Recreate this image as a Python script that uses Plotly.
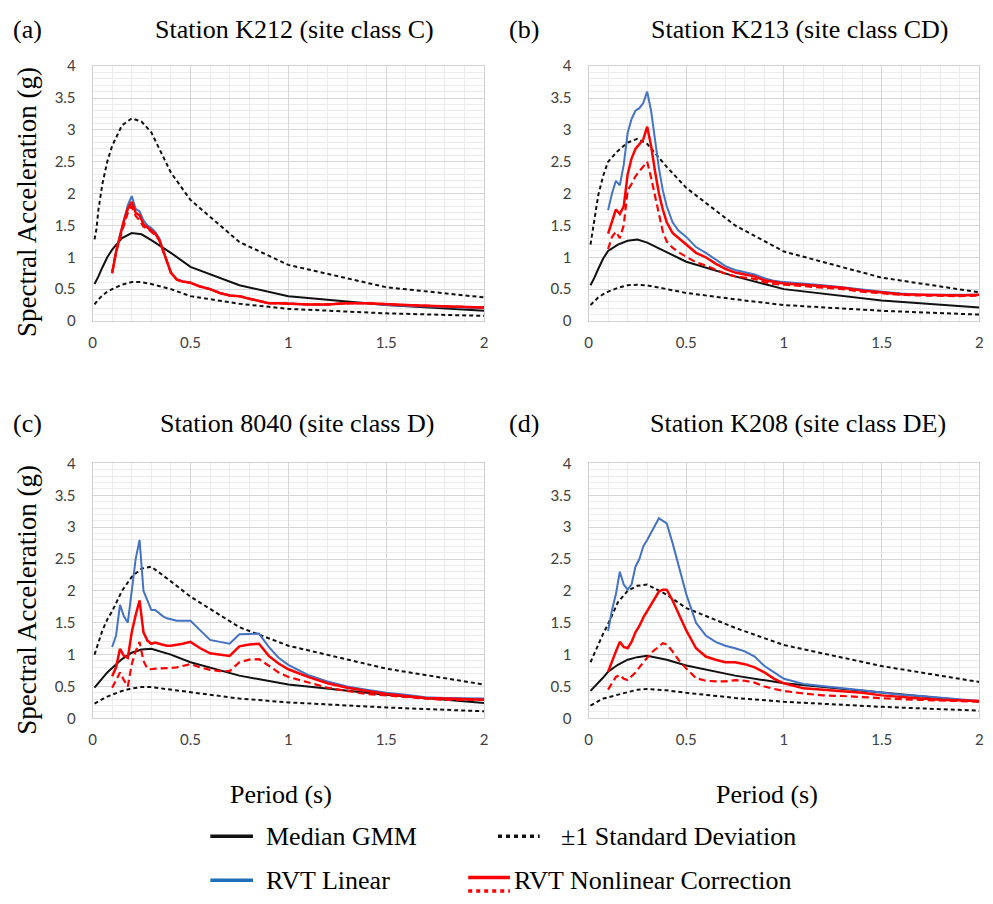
import plotly.graph_objects as go

# ---------------- data ----------------
# GMM periods (s)
gmm_T = [0.01, 0.02, 0.03, 0.05, 0.075, 0.1, 0.15, 0.2, 0.25, 0.3, 0.4, 0.5, 0.75, 1.0, 1.5, 2.0]
# RVT periods (s)
rvt_T = [0.10, 0.12, 0.14, 0.16, 0.18, 0.20, 0.22, 0.24, 0.26, 0.28, 0.30, 0.32, 0.34, 0.36, 0.38,
         0.40, 0.43, 0.46, 0.50, 0.55, 0.60, 0.65, 0.70, 0.75, 0.80, 0.85, 0.90, 0.95, 1.00,
         1.10, 1.20, 1.30, 1.40, 1.50, 1.60, 1.70, 1.80, 1.90, 2.00]

# Station K212 (site class C)
k212_median = [0.58, 0.63, 0.7, 0.84, 1.0, 1.12, 1.3, 1.38, 1.36, 1.27, 1.07, 0.85, 0.56, 0.39, 0.25, 0.16]
k212_upper = [1.28, 1.45, 1.75, 2.15, 2.5, 2.75, 3.07, 3.18, 3.13, 2.96, 2.33, 1.9, 1.24, 0.88, 0.53, 0.37]
k212_lower = [0.26, 0.3, 0.34, 0.4, 0.46, 0.5, 0.57, 0.61, 0.61, 0.58, 0.5, 0.39, 0.27, 0.19, 0.12, 0.08]
k212_linear = [0.75, 1.1, 1.35, 1.6, 1.82, 1.96, 1.76, 1.72, 1.58, 1.5, 1.46, 1.4, 1.3, 1.12, 0.93,
               0.76, 0.65, 0.62, 0.6, 0.54, 0.5, 0.44, 0.4, 0.39, 0.35, 0.32, 0.28, 0.28, 0.27,
               0.26, 0.26, 0.28, 0.28, 0.25, 0.24, 0.23, 0.22, 0.21, 0.2]
k212_nl_a = [0.75, 1.08, 1.33, 1.57, 1.76, 1.87, 1.7, 1.66, 1.52, 1.47, 1.42, 1.37, 1.28, 1.1, 0.92,
             0.76, 0.65, 0.62, 0.6, 0.54, 0.5, 0.44, 0.4, 0.39, 0.35, 0.32, 0.28, 0.28, 0.27,
             0.26, 0.26, 0.28, 0.28, 0.26, 0.25, 0.24, 0.23, 0.22, 0.21]
k212_nl_b = [0.77, 1.08, 1.3, 1.52, 1.7, 1.8, 1.65, 1.58, 1.48, 1.45, 1.4, 1.35, 1.27, 1.1, 0.92,
             0.76, 0.65, 0.62, 0.6, 0.54, 0.5, 0.44, 0.4, 0.39, 0.35, 0.32, 0.28, 0.28, 0.27,
             0.26, 0.26, 0.28, 0.28, 0.26, 0.25, 0.24, 0.23, 0.22, 0.21]

# Station K213 (site class CD)
k213_median = [0.56, 0.61, 0.68, 0.82, 0.98, 1.1, 1.2, 1.26, 1.28, 1.23, 1.08, 0.93, 0.7, 0.5, 0.32, 0.21]
k213_upper = [1.2, 1.4, 1.62, 1.98, 2.28, 2.5, 2.67, 2.8, 2.86, 2.78, 2.42, 2.09, 1.5, 1.09, 0.68, 0.45]
k213_lower = [0.25, 0.28, 0.31, 0.37, 0.42, 0.46, 0.52, 0.56, 0.57, 0.56, 0.5, 0.44, 0.34, 0.25, 0.16, 0.1]
k213_linear = [1.74, 2.0, 2.2, 2.13, 2.45, 2.95, 3.17, 3.3, 3.34, 3.42, 3.6, 3.3, 2.85, 2.4, 2.05,
               1.8, 1.55, 1.42, 1.32, 1.16, 1.07, 0.96, 0.86, 0.8, 0.77, 0.73, 0.67, 0.63, 0.61,
               0.59, 0.56, 0.53, 0.49, 0.46, 0.43, 0.41, 0.41, 0.41, 0.41]
k213_nl_a = [1.37, 1.55, 1.75, 1.68, 1.8, 2.3, 2.55, 2.7, 2.78, 2.85, 3.05, 2.75, 2.35, 2.0, 1.75,
             1.55, 1.38, 1.3, 1.2, 1.07, 1.0, 0.9, 0.82, 0.76, 0.73, 0.7, 0.64, 0.61, 0.59,
             0.57, 0.55, 0.52, 0.48, 0.45, 0.42, 0.41, 0.4, 0.4, 0.41]
k213_nl_b = [1.13, 1.32, 1.4, 1.3, 1.5, 2.05, 2.15, 2.27, 2.35, 2.42, 2.5, 2.25, 1.95, 1.65, 1.4,
             1.25, 1.15, 1.08, 1.01, 0.92, 0.87, 0.8, 0.74, 0.7, 0.68, 0.66, 0.61, 0.58, 0.57,
             0.55, 0.53, 0.5, 0.46, 0.43, 0.41, 0.4, 0.39, 0.39, 0.4]

# Station 8040 (site class D)
s8040_median = [0.48, 0.52, 0.56, 0.63, 0.72, 0.79, 0.93, 1.03, 1.08, 1.09, 1.0, 0.88, 0.67, 0.53, 0.37, 0.24]
s8040_upper = [1.0, 1.1, 1.2, 1.38, 1.55, 1.68, 2.0, 2.22, 2.35, 2.38, 2.15, 1.91, 1.43, 1.14, 0.78, 0.53]
s8040_lower = [0.23, 0.25, 0.27, 0.3, 0.34, 0.37, 0.43, 0.47, 0.49, 0.49, 0.45, 0.41, 0.31, 0.25, 0.17, 0.11]
s8040_linear = [1.12, 1.3, 1.78, 1.6, 1.5, 2.05, 2.5, 2.8, 2.0, 1.85, 1.7, 1.7, 1.65, 1.6, 1.57,
                1.55, 1.53, 1.53, 1.53, 1.38, 1.23, 1.2, 1.17, 1.32, 1.33, 1.33, 1.12, 0.95, 0.84,
                0.68, 0.58, 0.5, 0.45, 0.4, 0.37, 0.33, 0.32, 0.31, 0.31]
s8040_nl_a = [0.66, 0.8, 1.09, 0.98, 0.95, 1.35, 1.62, 1.85, 1.35, 1.22, 1.17, 1.19, 1.17, 1.15, 1.14,
              1.14, 1.15, 1.17, 1.2, 1.1, 1.02, 1.0, 0.98, 1.13, 1.16, 1.17, 0.98, 0.86, 0.77,
              0.65, 0.55, 0.48, 0.43, 0.38, 0.35, 0.32, 0.31, 0.3, 0.29]
s8040_nl_b = [0.48, 0.6, 0.72, 0.6, 0.5, 0.85, 1.05, 1.2, 0.9, 0.78, 0.77, 0.78, 0.78, 0.78, 0.78,
              0.79, 0.8, 0.82, 0.85, 0.8, 0.76, 0.74, 0.74, 0.88, 0.92, 0.93, 0.82, 0.72, 0.65,
              0.56, 0.48, 0.43, 0.38, 0.36, 0.33, 0.31, 0.29, 0.29, 0.29]

# Station K208 (site class DE)
k208_median = [0.43, 0.46, 0.5, 0.56, 0.64, 0.73, 0.84, 0.92, 0.96, 0.98, 0.92, 0.83, 0.67, 0.55, 0.4, 0.26]
k208_upper = [0.88, 0.95, 1.03, 1.18, 1.33, 1.48, 1.82, 2.0, 2.08, 2.1, 1.94, 1.73, 1.42, 1.15, 0.82, 0.57]
k208_lower = [0.2, 0.22, 0.24, 0.27, 0.31, 0.33, 0.38, 0.42, 0.45, 0.46, 0.44, 0.4, 0.32, 0.26, 0.18, 0.12]
k208_linear = [1.37, 1.7, 1.95, 2.3, 2.1, 2.02, 2.1, 2.38, 2.5, 2.7, 2.8, 2.92, 3.02, 3.14, 3.1,
               3.06, 2.75, 2.4, 1.95, 1.5, 1.3, 1.2, 1.14, 1.1, 1.05, 0.97, 0.82, 0.72, 0.62,
               0.54, 0.5, 0.47, 0.44, 0.4, 0.37, 0.35, 0.32, 0.29, 0.27]
k208_nl_a = [0.73, 0.9, 1.05, 1.2, 1.12, 1.1, 1.2, 1.35, 1.45, 1.58, 1.68, 1.8, 1.9, 1.99, 2.02,
             2.02, 1.85, 1.65, 1.38, 1.1, 0.97, 0.92, 0.88, 0.88, 0.85, 0.8, 0.72, 0.62, 0.55,
             0.47, 0.45, 0.43, 0.4, 0.36, 0.33, 0.31, 0.29, 0.28, 0.27]
k208_nl_b = [0.45, 0.56, 0.65, 0.68, 0.62, 0.6, 0.66, 0.72, 0.8, 0.88, 0.95, 1.02, 1.08, 1.12, 1.18,
             1.16, 1.05, 0.92, 0.78, 0.63, 0.59, 0.58, 0.58, 0.6, 0.59, 0.56, 0.5, 0.46, 0.43,
             0.39, 0.36, 0.35, 0.33, 0.32, 0.3, 0.29, 0.28, 0.27, 0.26]

panel_tags = ["(a)", "(b)", "(c)", "(d)"]
panel_titles = ["Station K212 (site class C)", "Station K213 (site class CD)",
                "Station 8040 (site class D)", "Station K208 (site class DE)"]
x_ticks = [0, 0.5, 1, 1.5, 2]
x_tick_text = ["0", "0.5", "1", "1.5", "2"]
y_ticks = [0, 0.5, 1, 1.5, 2, 2.5, 3, 3.5, 4]
y_tick_text = ["0", "0.5", "1", "1.5", "2", "2.5", "3", "3.5", "4"]

panels = [
    (k212_median, k212_upper, k212_lower, k212_linear, k212_nl_a, k212_nl_b),
    (k213_median, k213_upper, k213_lower, k213_linear, k213_nl_a, k213_nl_b),
    (s8040_median, s8040_upper, s8040_lower, s8040_linear, s8040_nl_a, s8040_nl_b),
    (k208_median, k208_upper, k208_lower, k208_linear, k208_nl_a, k208_nl_b),
]

# ---------------- layout geometry (pixels) ----------------
W, H = 993, 904
SERIF = "Liberation Serif"
TEXT_SIZE = 26
TICKFONT = dict(family="Lato", size=15, color="#404040")
BLACK = "#111111"
BLUE = "#4472C4"
RED = "#FF0000"

col_px = [(89.3, 484.0), (589.3, 983.3)]
row_px = [(57.3, 317.3), (462.7, 722.7)]


def px_x(p):
    return p / W


def px_y(p):
    return (H - p) / H


fig = go.Figure()
layout_axes = {}

for i, data in enumerate(panels):
    r, c = divmod(i, 2)
    n = i + 1
    xa = "x" if n == 1 else f"x{n}"
    ya = "y" if n == 1 else f"y{n}"
    median, upper, lower, linear, nl_a, nl_b = data

    fig.add_trace(go.Scatter(x=gmm_T, y=upper, mode="lines", xaxis=xa, yaxis=ya,
                             line=dict(color=BLACK, width=2, dash="4px,3px"), showlegend=False))
    fig.add_trace(go.Scatter(x=gmm_T, y=lower, mode="lines", xaxis=xa, yaxis=ya,
                             line=dict(color=BLACK, width=2, dash="4px,3px"), showlegend=False))
    fig.add_trace(go.Scatter(x=gmm_T, y=median, mode="lines", xaxis=xa, yaxis=ya,
                             line=dict(color=BLACK, width=2), showlegend=False))
    fig.add_trace(go.Scatter(x=rvt_T, y=linear, mode="lines", xaxis=xa, yaxis=ya,
                             line=dict(color=BLUE, width=2), showlegend=False))
    fig.add_trace(go.Scatter(x=rvt_T, y=nl_b, mode="lines", xaxis=xa, yaxis=ya,
                             line=dict(color=RED, width=2.2, dash="7px,4px"), showlegend=False))
    fig.add_trace(go.Scatter(x=rvt_T, y=nl_a, mode="lines", xaxis=xa, yaxis=ya,
                             line=dict(color=RED, width=2.5), showlegend=False))

    x0, x1 = col_px[c]
    yt, yb = row_px[r]
    xkey = "xaxis" if n == 1 else f"xaxis{n}"
    ykey = "yaxis" if n == 1 else f"yaxis{n}"
    layout_axes[xkey] = dict(
        domain=[px_x(x0), px_x(x1)], anchor=ya, range=[0, 2],
        tickvals=x_ticks, ticktext=x_tick_text, tickfont=TICKFONT,
        showgrid=True, gridcolor="#d6d6d6", gridwidth=1,
        minor=dict(dtick=0.1, showgrid=True, gridcolor="#ececec", gridwidth=1),
        showline=True, linecolor="#d0d0d0", linewidth=1, mirror=True,
        ticks="outside", ticklen=8, tickcolor="rgba(0,0,0,0)", zeroline=False,
    )
    layout_axes[ykey] = dict(
        domain=[px_y(yb), px_y(yt)], anchor=xa, range=[0, 4],
        tickvals=y_ticks, ticktext=y_tick_text, tickfont=TICKFONT,
        showgrid=True, gridcolor="#d6d6d6", gridwidth=1,
        minor=dict(dtick=0.1, showgrid=True, gridcolor="#ececec", gridwidth=1),
        showline=True, linecolor="#d0d0d0", linewidth=1, mirror=True,
        ticks="outside", ticklen=13, tickcolor="rgba(0,0,0,0)", zeroline=False,
    )

annotations = []
tag_pos = [(7, 20), (507, 20), (7, 422), (507, 422)]
title_pos = [(293, 20), (802, 20), (295, 422), (800, 422)]
for i in range(4):
    tx, ty = tag_pos[i]
    annotations.append(dict(text=panel_tags[i], x=px_x(tx), y=px_y(ty), xref="paper", yref="paper",
                            xanchor="left", yanchor="middle", showarrow=False,
                            font=dict(family=SERIF, size=TEXT_SIZE, color="black")))
    cx, cy = title_pos[i]
    annotations.append(dict(text=panel_titles[i], x=px_x(cx), y=px_y(cy), xref="paper", yref="paper",
                            xanchor="center", yanchor="middle", showarrow=False,
                            font=dict(family=SERIF, size=TEXT_SIZE, color="black")))

for cy in (196, 602):
    annotations.append(dict(text="Spectral Acceleration (g)", x=px_x(23), y=px_y(cy),
                            xref="paper", yref="paper", xanchor="center", yanchor="middle",
                            textangle=-90, showarrow=False,
                            font=dict(family=SERIF, size=27, color="black")))

for cx in (279, 769):
    annotations.append(dict(text="Period (s)", x=px_x(cx), y=px_y(800), xref="paper", yref="paper",
                            xanchor="center", yanchor="middle", showarrow=False,
                            font=dict(family=SERIF, size=TEXT_SIZE, color="black")))

# legend keys drawn as paper-space line segments
legend_items = [
    ("Median GMM", 262, 843),
    ("\u00b11 Standard Deviation", 560, 843),
    ("RVT Linear", 262, 888),
    ("RVT Nonlinear Correction", 512, 888),
]
for label, lx, ly in legend_items:
    annotations.append(dict(text=label, x=px_x(lx), y=px_y(ly), xref="paper", yref="paper",
                            xanchor="left", yanchor="middle", showarrow=False,
                            font=dict(family=SERIF, size=TEXT_SIZE, color="black")))

shapes = [
    dict(type="line", xref="paper", yref="paper", x0=px_x(208), x1=px_x(251), y0=px_y(843), y1=px_y(843),
         line=dict(color=BLACK, width=3.5)),
    dict(type="line", xref="paper", yref="paper", x0=px_x(498), x1=px_x(540), y0=px_y(843), y1=px_y(843),
         line=dict(color=BLACK, width=3.5, dash="4px,4px")),
    dict(type="line", xref="paper", yref="paper", x0=px_x(208), x1=px_x(251), y0=px_y(888), y1=px_y(888),
         line=dict(color="#1f6fb8", width=3.5)),
    dict(type="line", xref="paper", yref="paper", x0=px_x(468), x1=px_x(510), y0=px_y(885), y1=px_y(885),
         line=dict(color=RED, width=3.5)),
    dict(type="line", xref="paper", yref="paper", x0=px_x(468), x1=px_x(510), y0=px_y(899), y1=px_y(899),
         line=dict(color=RED, width=3.5, dash="4px,4px")),
]

fig.update_layout(
    width=W, height=H, margin=dict(l=0, r=0, t=0, b=0),
    paper_bgcolor="white", plot_bgcolor="white",
    showlegend=False, annotations=annotations, shapes=shapes,
    **layout_axes,
)

fig.write_html("out.html")
